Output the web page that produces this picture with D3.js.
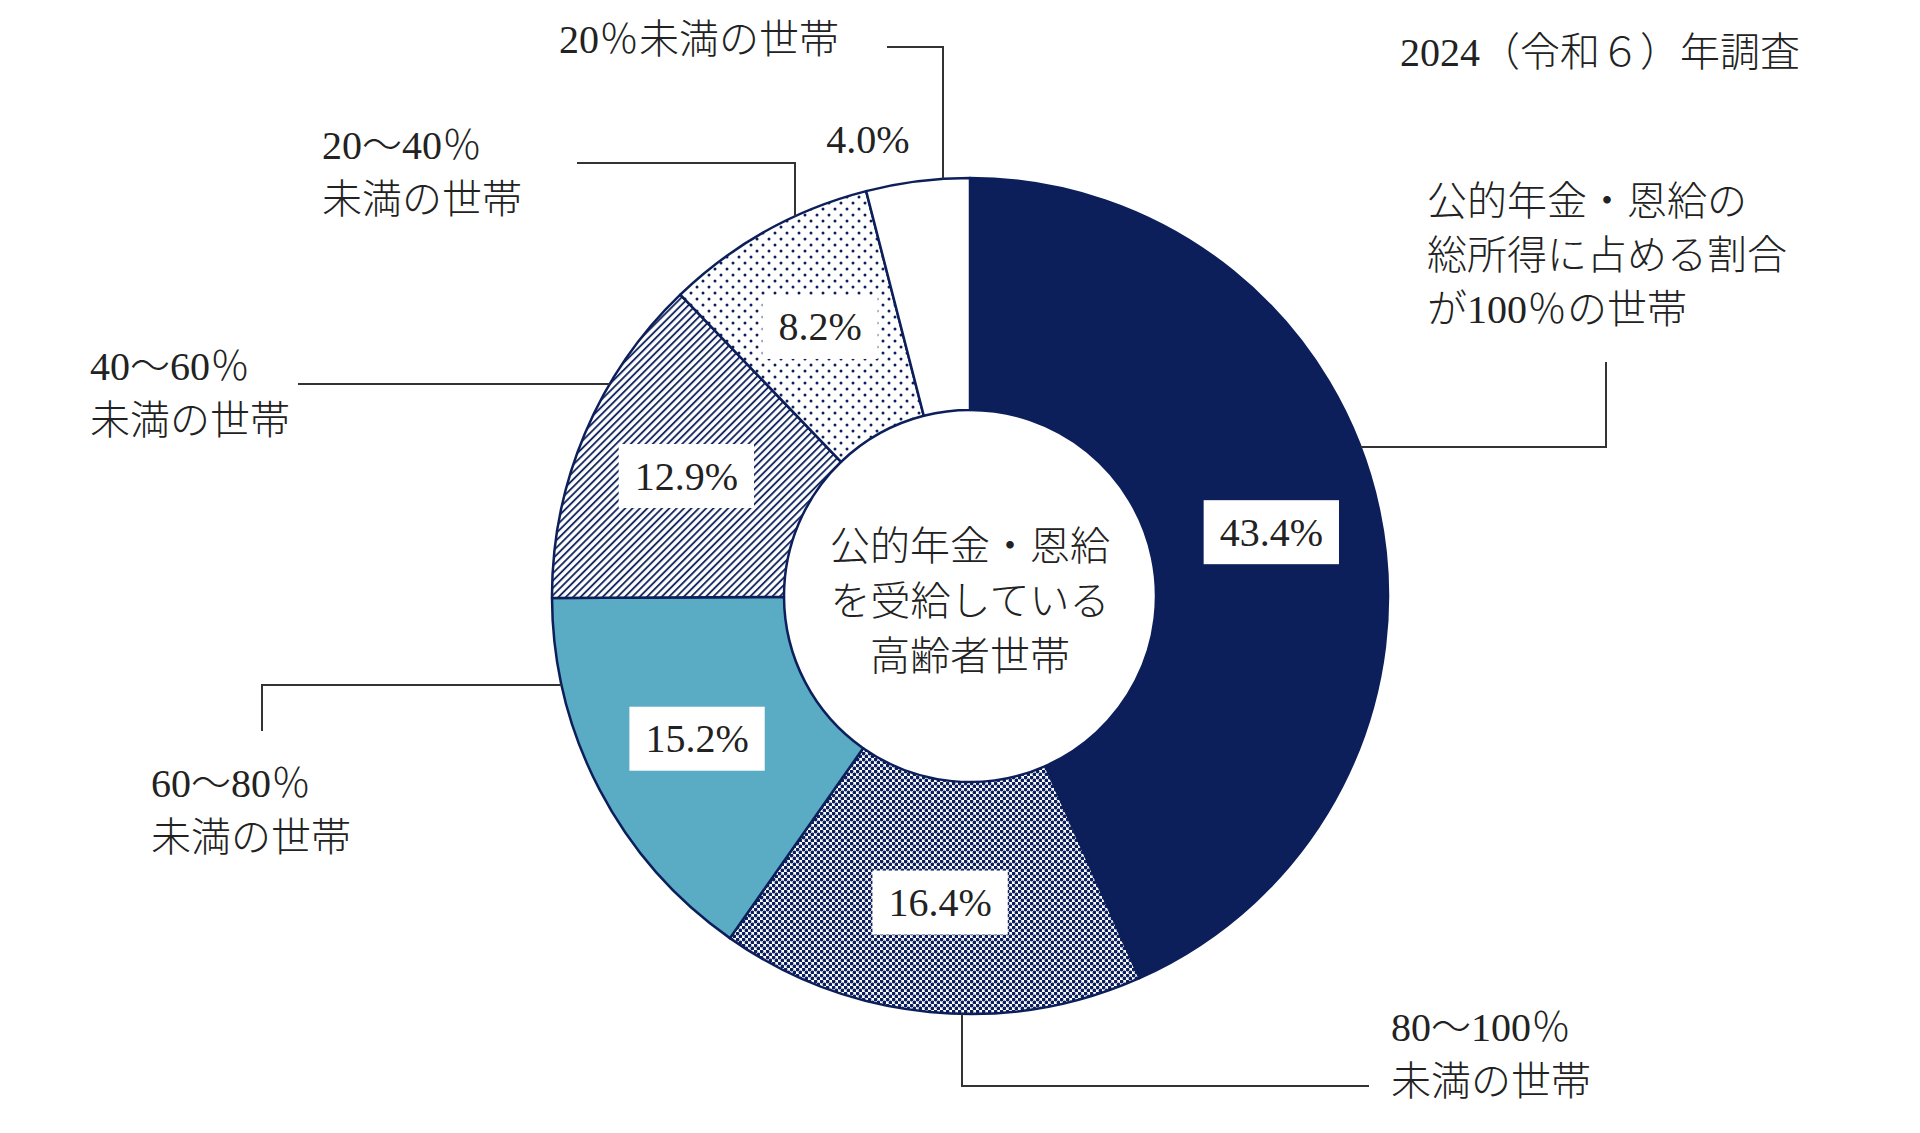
<!DOCTYPE html>
<html>
<head>
<meta charset="utf-8">
<script src="https://cdn.jsdelivr.net/npm/d3@7"></script>
<style>
  body { margin: 0; background: #fff; }
  svg text { font-family: "Liberation Serif", "Noto Sans CJK JP", sans-serif; font-weight: 300; fill: #222; }
</style>
</head>
<body>
<div class="displayArea"></div>
<script>
const width = 1920, height = 1133;

// data (clockwise from 12 o'clock)
var categories = ["100%", "80-100%", "60-80%", "40-60%", "20-40%", "<20%"];
var values = [43.4, 16.4, 15.2, 12.9, 8.2, 4.0];
var categoryLabels = [
    ["公的年金・恩給の", "総所得に占める割合", "が100％の世帯"],
    ["80～100％", "未満の世帯"],
    ["60～80％", "未満の世帯"],
    ["40～60％", "未満の世帯"],
    ["20～40％", "未満の世帯"],
    ["20％未満の世帯"]
];
var centerLabel = ["公的年金・恩給", "を受給している", "高齢者世帯"];
var title = "2024（令和６）年調査";

var navy = "#0c1f5b", teal = "#5aabc4";
var fills = [navy, "url(#checker)", teal, "url(#hatch)", "url(#dots)", "#ffffff"];

const cx = 970, cy = 596, R = 418, r0 = 186;

var svg = d3.select(".displayArea")
    .append("svg")
    .attr("width", width)
    .attr("height", height);

// fill patterns
var defs = svg.append("defs");

var checker = defs.append("pattern").attr("id", "checker")
    .attr("patternUnits", "userSpaceOnUse").attr("width", 6).attr("height", 6);
checker.append("rect").attr("width", 6).attr("height", 6).attr("fill", "#fff");
checker.append("circle").attr("cx", 1.5).attr("cy", 1.5).attr("r", 1.9).attr("fill", navy);
checker.append("circle").attr("cx", 4.5).attr("cy", 4.5).attr("r", 1.9).attr("fill", navy);

var hatch = defs.append("pattern").attr("id", "hatch")
    .attr("patternUnits", "userSpaceOnUse").attr("width", 5.2).attr("height", 5.2)
    .attr("patternTransform", "rotate(45)");
hatch.append("rect").attr("width", 5.2).attr("height", 5.2).attr("fill", "#fff");
hatch.append("line").attr("x1", 1).attr("y1", 0).attr("x2", 1).attr("y2", 5.2)
    .attr("stroke", navy).attr("stroke-width", 1.8);

var dots = defs.append("pattern").attr("id", "dots")
    .attr("patternUnits", "userSpaceOnUse").attr("width", 12).attr("height", 12);
dots.append("rect").attr("width", 12).attr("height", 12).attr("fill", "#fff");
dots.append("circle").attr("cx", 3).attr("cy", 3).attr("r", 1.5).attr("fill", navy);
dots.append("circle").attr("cx", 9).attr("cy", 9).attr("r", 1.5).attr("fill", navy);

var pie = d3.pie().sort(null).value(d => d);
var arcs = pie(values);

var arc = d3.arc().innerRadius(r0).outerRadius(R);
var labelArc = d3.arc().innerRadius(308).outerRadius(308);

var g = svg.append("g").attr("transform", `translate(${cx},${cy})`);

g.selectAll("path.slice")
    .data(arcs)
    .enter()
    .append("path")
    .attr("class", "slice")
    .attr("d", arc)
    .attr("fill", (d, i) => fills[i])
    .attr("stroke", navy)
    .attr("stroke-width", 2.5)
    .attr("stroke-linejoin", "round");

// value labels on white boxes (the 4.0% one sits outside the ring)
var fmt = d3.format(".1f");
arcs.forEach(function (d, i) {
    var txt = fmt(values[i]) + "%";
    if (i == arcs.length - 1) {
        svg.append("text")
            .attr("x", 868).attr("y", 139)
            .attr("text-anchor", "middle").attr("dominant-baseline", "central")
            .attr("font-size", 40).text(txt);
        return;
    }
    var c = labelArc.centroid(d);
    var lg = g.append("g").attr("transform", `translate(${c[0]},${c[1]})`);
    var rect = lg.append("rect").attr("fill", "#fff");
    var t = lg.append("text")
        .attr("text-anchor", "middle").attr("dominant-baseline", "central")
        .attr("font-size", 40).text(txt);
    var bb = t.node().getBBox();
    rect.attr("x", -bb.width / 2 - 16).attr("y", -32)
        .attr("width", bb.width + 32).attr("height", 64);
});

// centre text
svg.append("g").selectAll("text")
    .data(centerLabel)
    .enter()
    .append("text")
    .attr("x", cx)
    .attr("y", (d, i) => 546 + i * 55)
    .attr("text-anchor", "middle").attr("dominant-baseline", "central")
    .attr("font-size", 40)
    .text(d => d);

// title
svg.append("text")
    .attr("x", 1400).attr("y", 52)
    .attr("dominant-baseline", "central")
    .attr("font-size", 40)
    .text(title);

// category labels
var labelPos = [[1427, 201], [1391, 1027], [151, 783], [90, 366], [322, 145], [559, 39]];
categoryLabels.forEach(function (lines, i) {
    svg.append("g").selectAll("text")
        .data(lines)
        .enter()
        .append("text")
        .attr("x", labelPos[i][0])
        .attr("y", (d, j) => labelPos[i][1] + j * 54)
        .attr("dominant-baseline", "central")
        .attr("font-size", 40)
        .text(d => d);
});

// leader lines, each ends on the outer edge of the ring
function edgeAtY(y, side) { return [cx + side * Math.sqrt(R * R - (y - cy) * (y - cy)), y]; }
function edgeAtX(x, side) { return [x, cy + side * Math.sqrt(R * R - (x - cx) * (x - cx))]; }

var leaders = [
    [[1606, 362], [1606, 447], edgeAtY(447, 1)],
    [edgeAtX(962, 1), [962, 1086], [1369, 1086]],
    [[262, 731], [262, 685], edgeAtY(685, -1)],
    [[298, 384], edgeAtY(384, -1)],
    [[577, 163], [795, 163], edgeAtX(795, -1)],
    [[887, 47], [943, 47], edgeAtX(943, -1)]
];

svg.append("g").selectAll("path")
    .data(leaders)
    .enter()
    .append("path")
    .attr("d", d3.line())
    .attr("fill", "none")
    .attr("stroke", "#333")
    .attr("stroke-width", 2);
</script>
</body>
</html>
